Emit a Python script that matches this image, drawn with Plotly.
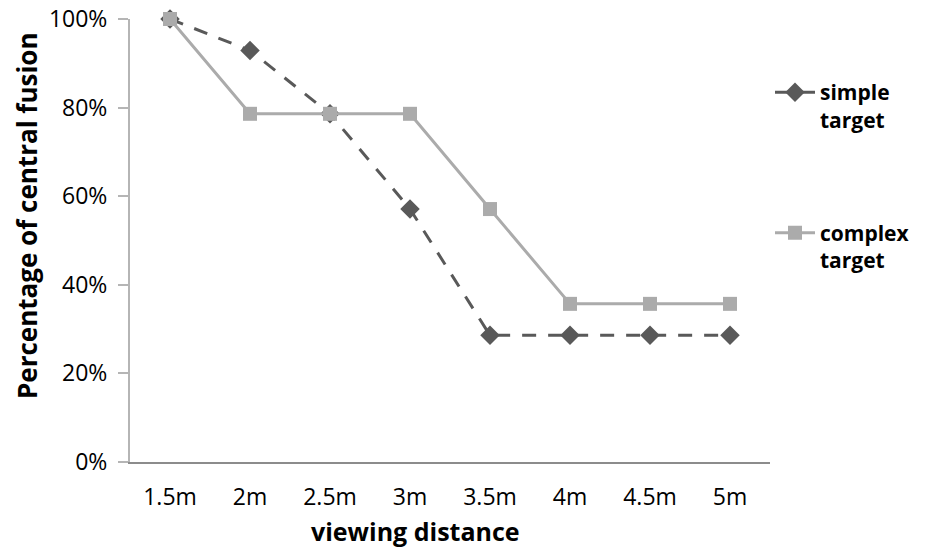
import plotly.graph_objects as go

categories = ["1.5m", "2m", "2.5m", "3m", "3.5m", "4m", "4.5m", "5m"]
simple_target = [1.0, 0.929, 0.786, 0.571, 0.286, 0.286, 0.286, 0.286]
complex_target = [1.0, 0.786, 0.786, 0.786, 0.571, 0.357, 0.357, 0.357]
y_ticks = [0, 0.2, 0.4, 0.6, 0.8, 1.0]

W, H = 925, 550
PLOT_L, PLOT_R, PLOT_T, PLOT_B = 130, 770, 19, 462
L, R, T, B = PLOT_L, W - PLOT_R, PLOT_T, H - PLOT_B
pw, ph = PLOT_R - PLOT_L, PLOT_B - PLOT_T

def px_x(x):
    return (x - L) / pw

def px_y(y):
    return (PLOT_B - y) / ph

FONT = "Open Sans"

fig = go.Figure()
fig.add_trace(go.Scatter(
    x=categories, y=simple_target, name="simple<br>target",
    mode="lines+markers", legendgroup="a",
    line=dict(color="#595959", width=3, dash="14px,12px"),
    marker=dict(symbol="diamond", size=15, color="#595959"),
    cliponaxis=False,
))
fig.add_trace(go.Scatter(
    x=categories, y=complex_target, name="complex<br>target",
    mode="lines+markers", legendgroup="b",
    line=dict(color="#ABABAB", width=3),
    marker=dict(symbol="square", size=14, color="#ABABAB"),
    cliponaxis=False,
))

fig.update_layout(
    width=W, height=H,
    margin=dict(l=L, r=R, t=T, b=B, autoexpand=False),
    paper_bgcolor="white", plot_bgcolor="white",
    font=dict(family=FONT, size=23, color="#000000"),
    showlegend=True,
    legend=dict(
        x=px_x(770), xref="paper", xanchor="left",
        y=px_y(72), yref="paper", yanchor="top",
        font=dict(family=FONT, size=21, color="#000000", weight="bold"),
        valign="top", tracegroupgap=83, itemwidth=40,
        bgcolor="rgba(0,0,0,0)",
    ),
    xaxis=dict(
        type="category", range=[-0.5, 7.5], automargin=False,
        showline=True, linecolor="#8C8C8C", linewidth=1.5,
        ticks="", showgrid=False, zeroline=False,
        tickfont=dict(family=FONT, size=23),
        ticklabelstandoff=14,
    ),
    yaxis=dict(
        range=[0, 1], tickvals=y_ticks, tickformat=".0%", automargin=False,
        showline=True, linecolor="#B5B5B5", linewidth=2,
        ticks="outside", ticklen=10, tickcolor="#B5B5B5", tickwidth=1.5,
        showgrid=False, zeroline=False,
        tickfont=dict(family=FONT, size=23),
        ticklabelstandoff=6, ticklabeloverflow="allow",
    ),
    annotations=[
        dict(text="<b>viewing distance</b>", xref="paper", yref="paper",
             x=px_x(415), y=px_y(531), showarrow=False,
             xanchor="center", yanchor="middle",
             font=dict(family=FONT, size=25, color="#000000")),
        dict(text="<b>Percentage of central fusion</b>", xref="paper", yref="paper",
             x=px_x(27), y=px_y(216), showarrow=False, textangle=-90,
             xanchor="center", yanchor="middle",
             font=dict(family=FONT, size=26, color="#000000")),
    ],
)

fig.write_html("out.html", config={"displayModeBar": False},
               post_script="document.body.style.margin='0';")
